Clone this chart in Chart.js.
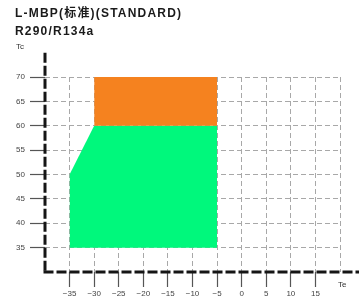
<!DOCTYPE html>
<html>
<head>
<meta charset="utf-8">
<script src="https://cdn.jsdelivr.net/npm/chart.js@4/dist/chart.umd.min.js"></script>
<style>
html, body { margin: 0; padding: 0; background: #fff; }
#wrap { position: relative; width: 359px; height: 303px; }
#wrap canvas { position: absolute; left: 0; top: 0; }
.title { position: absolute; left: 15px; font-family: "Liberation Sans", "Noto Sans CJK SC", Arial, sans-serif;
  font-weight: bold; font-size: 12px; line-height: 12px; letter-spacing: 1.2px; color: #1a1a1a; white-space: nowrap; }
.axname { position: absolute; font-family: "Liberation Sans", Arial, sans-serif; font-size: 8px; line-height: 8px; color: #333; }
</style>
</head>
<body>
<div id="wrap">
  <canvas id="c" width="359" height="303"></canvas>
  <div class="title" style="top:7px">L-MBP(标准)(STANDARD)</div>
  <div class="title" style="top:25px">R290/R134a</div>
  <div class="axname" style="left:16px;top:43px">Tc</div>
  <div class="axname" style="left:338px;top:281px">Te</div>
</div>
<script>
// operating envelope, Te (evaporating) vs Tc (condensing)
const greenTe = [-35, -30, -5];
const greenTcTop = [50, 60, 60];
const greenTcBottom = 35;

const orangeTe = [-30, -5];
const orangeTcTop = [70, 70];
const orangeTcBottom = 60;

const xTicks = [-35, -30, -25, -20, -15, -10, -5, 0, 5, 10, 15];
const yTicks = [35, 40, 45, 50, 55, 60, 65, 70];

const X_MIN = -40, X_MAX = 20, X_AXIS_END = 24;
const Y_MIN = 30, Y_MAX = 70, Y_AXIS_END = 75;

function pts(xs, ys) {
    return xs.map((x, i) => ({x: x, y: ys[i]}));
}

// thick dashed axis lines, they run past the grid
const axisLines = {
    id: 'axisLines',
    afterDatasetsDraw(chart) {
        let ctx = chart.ctx;
        let xs = chart.scales.x, ys = chart.scales.y;
        let left = xs.getPixelForValue(X_MIN);
        let bottom = ys.getPixelForValue(Y_MIN);
        ctx.save();
        ctx.strokeStyle = '#151515';
        ctx.lineWidth = 3;
        ctx.setLineDash([10, 3]);
        ctx.beginPath();
        ctx.moveTo(left, ys.getPixelForValue(Y_AXIS_END));
        ctx.lineTo(left, bottom);
        ctx.stroke();
        ctx.beginPath();
        ctx.moveTo(left - 1.5, bottom);
        ctx.lineTo(xs.getPixelForValue(X_AXIS_END), bottom);
        ctx.stroke();
        ctx.restore();
    }
};

const tickFont = {family: '"Liberation Sans", Arial, sans-serif', size: 8};
const minus = v => String(v).replace('-', '\u2212');

new Chart(document.getElementById('c'), {
    type: 'line',
    data: {
        datasets: [{
            data: pts(orangeTe, orangeTcTop),
            fill: {value: orangeTcBottom},
            backgroundColor: '#f5821f',
            borderWidth: 0,
            pointRadius: 0
        }, {
            data: pts(greenTe, greenTcTop),
            fill: {value: greenTcBottom},
            backgroundColor: '#00f87c',
            borderWidth: 0,
            pointRadius: 0
        }]
    },
    options: {
        responsive: false,
        animation: false,
        layout: {padding: {left: 0, top: 77, right: 19, bottom: 0}},
        plugins: {legend: {display: false}, tooltip: {enabled: false}},
        scales: {
            x: {
                type: 'linear',
                min: X_MIN,
                max: X_MAX,
                afterBuildTicks: s => { s.ticks = [X_MIN].concat(xTicks, [X_MAX]).map(v => ({value: v})); },
                afterFit: s => { s.height = 31; },
                border: {display: false, dash: [5, 3]},
                grid: {
                    color: c => c.tick && c.tick.value === X_MIN ? 'rgba(0,0,0,0)' : '#a8a8a8',
                    lineWidth: 1,
                    tickLength: 15,
                    tickWidth: 1.2,
                    tickBorderDash: [],
                    tickColor: c => c.tick && xTicks.includes(c.tick.value) ? '#555' : 'rgba(0,0,0,0)'
                },
                ticks: {
                    autoSkip: false,
                    maxRotation: 0,
                    padding: 2,
                    color: '#444',
                    font: tickFont,
                    callback: v => xTicks.includes(v) ? minus(v) : ''
                }
            },
            y: {
                min: Y_MIN,
                max: Y_MAX,
                afterBuildTicks: s => { s.ticks = [Y_MIN].concat(yTicks).map(v => ({value: v})); },
                afterFit: s => { s.width = 45; },
                border: {display: false, dash: [5, 3]},
                grid: {
                    color: c => c.tick && c.tick.value === Y_MIN ? 'rgba(0,0,0,0)' : '#a8a8a8',
                    lineWidth: 1,
                    tickLength: 15,
                    tickWidth: 1.2,
                    tickBorderDash: [],
                    tickColor: c => c.tick && yTicks.includes(c.tick.value) ? '#555' : 'rgba(0,0,0,0)'
                },
                ticks: {
                    padding: 5,
                    color: '#444',
                    font: tickFont,
                    callback: v => yTicks.includes(v) ? String(v) : ''
                }
            }
        }
    },
    plugins: [axisLines]
});
</script>
</body>
</html>
